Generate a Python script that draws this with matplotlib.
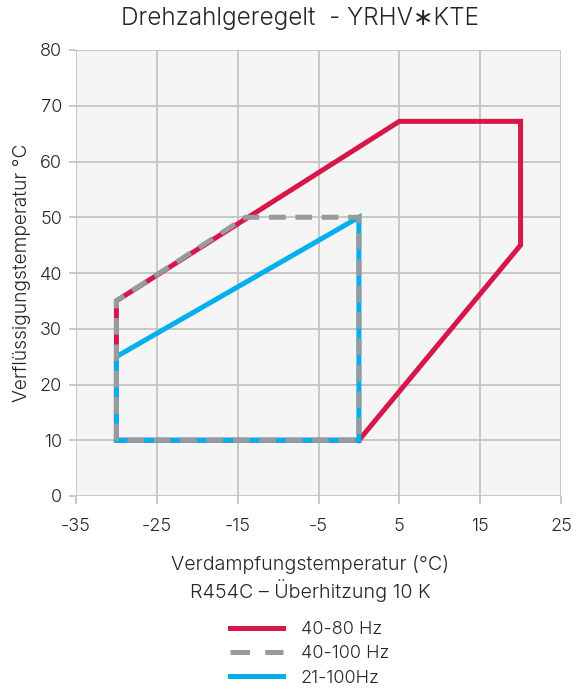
import matplotlib
matplotlib.use("Agg")
import matplotlib.pyplot as plt

plt.rcParams['font.family'] = ['Inter', 'DejaVu Sans']
plt.rcParams['font.weight'] = 300
plt.rcParams['axes.labelweight'] = 300
plt.rcParams['lines.scale_dashes'] = False

# Operating envelopes (evaporating temp °C, condensing temp °C)
env_40_80_x = [0, -30, -30, 5, 20, 20, 0]
env_40_80_y = [10, 10, 35, 67.2, 67.2, 45, 10]

env_40_100_x = [-30, -30, -14, 0, 0, -30]
env_40_100_y = [10, 35, 50, 50, 10, 10]

env_21_100_x = [-30, -30, 0, 0, -30]
env_21_100_y = [10, 25, 50, 10, 10]

labels = ['40-80 Hz', '40-100 Hz', '21-100Hz']
x_ticks = [-35, -25, -15, -5, 5, 15, 25]
y_ticks = [0, 10, 20, 30, 40, 50, 60, 70, 80]

RED = '#d7174a'
GRAY = '#999a9e'
BLUE = '#00b0ec'
TXT = '#262626'

fig = plt.figure(figsize=(5.77, 6.93), dpi=100)
ax = fig.add_axes([76/577, 1 - 496/693, (561 - 76)/577, (496 - 50)/693])
ax.set_facecolor('#f5f5f5')

lw = 3.6
l1, = ax.plot(env_40_80_x, env_40_80_y, color=RED, lw=lw, solid_joinstyle='miter', zorder=3)
l3, = ax.plot(env_21_100_x, env_21_100_y, color=BLUE, lw=lw, solid_joinstyle='miter', zorder=4)
l2, = ax.plot(env_40_100_x, env_40_100_y, color=GRAY, lw=lw, dashes=(12, 7),
              dash_joinstyle='miter', dash_capstyle='butt', zorder=5)

ax.set_xlim(-35, 25)
ax.set_ylim(0, 80)
ax.set_xticks(x_ticks)
ax.set_yticks(y_ticks)
ax.set_xticklabels([str(v) for v in x_ticks])
ax.grid(True, color='#c4c4c4', lw=1.3, zorder=0)
ax.set_axisbelow(True)
for s in ax.spines.values():
    s.set_visible(False)
ax.tick_params(axis='both', colors='#c4c4c4', width=1.3, labelcolor=TXT, labelsize=13)
ax.tick_params(axis='x', length=6, pad=10)
ax.tick_params(axis='y', length=5, pad=5)

ax.set_ylabel('Verflüssigungstemperatur °C', fontsize=13.8, color=TXT, labelpad=6)

fig.text(0.52, 1 - 18/693, 'Drehzahlgeregelt  - YRHV∗KTE', ha='center', va='center',
         fontsize=17.5, color=TXT)
fig.text(310/577, 1 - 565/693, 'Verdampfungstemperatur (°C)', ha='center', va='center',
         fontsize=14.2, color=TXT)
fig.text(310/577, 1 - 591/693, 'R454C – Überhitzung 10 K', ha='center', va='center',
         fontsize=14.2, color=TXT)

leg = fig.legend([l1, l2, l3], labels, loc='upper left', bbox_to_anchor=(214/577, 1 - 605/693),
                 frameon=False, fontsize=13, handlelength=2.9, handletextpad=1.0,
                 labelspacing=0.4, labelcolor=TXT)
leg.legend_handles[1].set_dashes((14, 11))

fig.savefig('out.png', dpi=100)
